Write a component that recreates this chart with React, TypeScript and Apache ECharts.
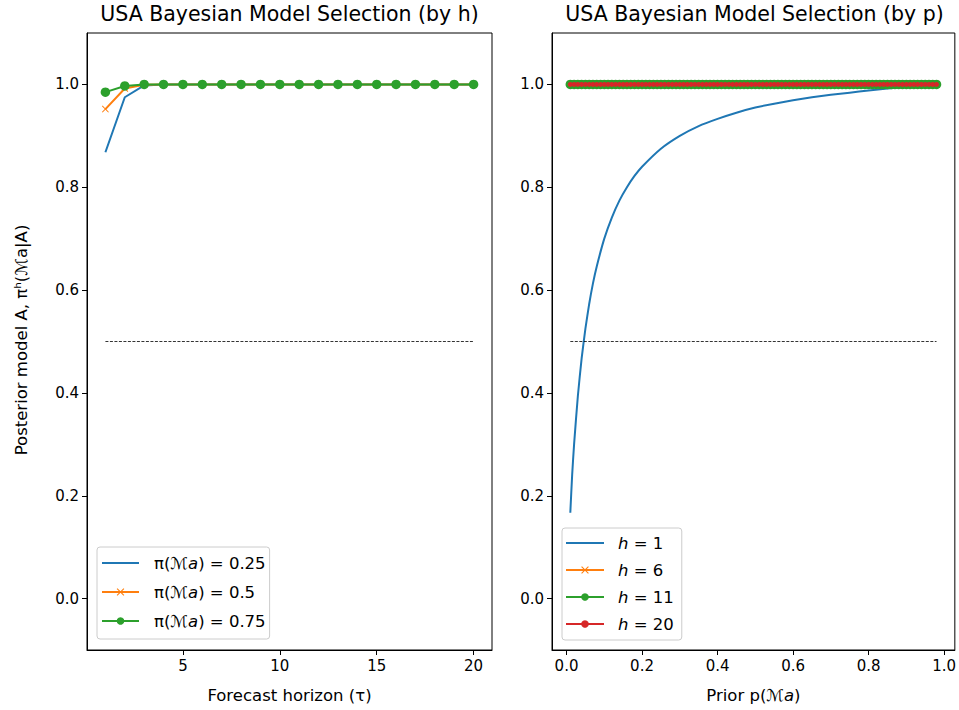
import React, { useEffect, useRef } from "react";
import * as echarts from "echarts";

const FONT = "DejaVu Sans";

// Left panel: posterior by forecast horizon
const horizons = [1, 2, 3, 4, 5, 6, 7, 8, 9, 10, 11, 12, 13, 14, 15, 16, 17, 18, 19, 20];
const prior025 = [0.868, 0.975, 0.998, 1, 1, 1, 1, 1, 1, 1, 1, 1, 1, 1, 1, 1, 1, 1, 1, 1];
const prior050 = [0.952, 0.992, 0.9995, 1, 1, 1, 1, 1, 1, 1, 1, 1, 1, 1, 1, 1, 1, 1, 1, 1];
const prior075 = [0.985, 0.997, 1, 1, 1, 1, 1, 1, 1, 1, 1, 1, 1, 1, 1, 1, 1, 1, 1, 1];

// Right panel: posterior by prior
const priorGrid = [
  0.01, 0.02, 0.03, 0.04, 0.05, 0.06, 0.07, 0.08, 0.09, 0.1, 0.11, 0.12, 0.13, 0.14,
  0.15, 0.16, 0.17, 0.18, 0.19, 0.2, 0.21, 0.22, 0.23, 0.24, 0.25, 0.26, 0.27, 0.28,
  0.29, 0.3, 0.31, 0.32, 0.33, 0.34, 0.35, 0.36, 0.37, 0.38, 0.39, 0.4, 0.41, 0.42,
  0.43, 0.44, 0.45, 0.46, 0.47, 0.48, 0.49, 0.5, 0.51, 0.52, 0.53, 0.54, 0.55, 0.56,
  0.57, 0.58, 0.59, 0.6, 0.61, 0.62, 0.63, 0.64, 0.65, 0.66, 0.67, 0.68, 0.69, 0.7,
  0.71, 0.72, 0.73, 0.74, 0.75, 0.76, 0.77, 0.78, 0.79, 0.8, 0.81, 0.82, 0.83, 0.84,
  0.85, 0.86, 0.87, 0.88, 0.89, 0.9, 0.91, 0.92, 0.93, 0.94, 0.95, 0.96, 0.97, 0.98,
];
const flatAtOne = [
  1, 1, 1, 1, 1, 1, 1, 1, 1, 1, 1, 1, 1, 1,
  1, 1, 1, 1, 1, 1, 1, 1, 1, 1, 1, 1, 1, 1,
  1, 1, 1, 1, 1, 1, 1, 1, 1, 1, 1, 1, 1, 1,
  1, 1, 1, 1, 1, 1, 1, 1, 1, 1, 1, 1, 1, 1,
  1, 1, 1, 1, 1, 1, 1, 1, 1, 1, 1, 1, 1, 1,
  1, 1, 1, 1, 1, 1, 1, 1, 1, 1, 1, 1, 1, 1,
  1, 1, 1, 1, 1, 1, 1, 1, 1, 1, 1, 1, 1, 1,
];
const h1Prior = [
  0.01, 0.015, 0.02, 0.03, 0.04, 0.05, 0.06, 0.07, 0.08, 0.1, 0.12, 0.14, 0.16, 0.18,
  0.2, 0.25, 0.3, 0.35, 0.4, 0.45, 0.5, 0.55, 0.6, 0.65, 0.7, 0.75, 0.8, 0.85, 0.9,
  0.95, 0.98,
];
const h1Values = [
  0.167, 0.242, 0.3, 0.394, 0.467, 0.525, 0.573, 0.613, 0.646, 0.7, 0.741, 0.774, 0.8,
  0.822, 0.84, 0.875, 0.9, 0.919, 0.933, 0.945, 0.955, 0.9625, 0.969, 0.975, 0.98,
  0.984, 0.988, 0.992, 0.995, 0.9975, 0.999,
];

const leftNames = ["π(ℳa) = 0.25", "π(ℳa) = 0.5", "π(ℳa) = 0.75"];
const rightNames = ["h = 1", "h = 6", "h = 11", "h = 20"];
const yTicks = [0, 0.2, 0.4, 0.6, 0.8, 1.0];
const leftXTicks = [5, 10, 15, 20];
const rightXTicks = [0, 0.2, 0.4, 0.6, 0.8, 1.0];
const threshold = 0.5;

const C_BLUE = "#1f77b4";
const C_ORANGE = "#ff7f0e";
const C_GREEN = "#2ca02c";
const C_RED = "#d62728";

const X_SYMBOL = "path://M0,1L1,0L5,4L9,0L10,1L6,5L10,9L9,10L5,6L1,10L0,9L4,5Z";

function pairs(xs: number[], ys: number[]) {
  return xs.map((x, i) => [x, ys[i]]);
}

export default function App() {
  const ref = useRef<HTMLDivElement>(null);
  useEffect(() => {
    document.body.style.margin = "0";
    if (!ref.current) return;
    const chart = echarts.init(ref.current, undefined, { renderer: "svg" });
    const tickLabel = { color: "#000", fontSize: 15, fontFamily: FONT, margin: 8 };
    const axisLine = { show: true, onZero: false, lineStyle: { color: "#000", width: 1 } };
    const nameStyle = {
      color: "#000",
      fontSize: 16.5,
      fontFamily: FONT,
      rich: { i: { fontStyle: "italic", fontSize: 16.5, fontFamily: FONT, color: "#000" } },
    };
    const yAxisBase = (gi: number) => ({
      type: "value",
      gridIndex: gi,
      min: -0.1,
      max: 1.1,
      axisLine,
      axisTick: { show: true, customValues: yTicks, length: 5, lineStyle: { color: "#000" } },
      axisLabel: { ...tickLabel, customValues: yTicks, formatter: (v: number) => v.toFixed(1) },
      splitLine: { show: false },
    });
    const lineCommon = { animation: false, clip: true };
    const legendText = (pad: number) => ({
      color: "#000",
      fontSize: 16.5,
      fontFamily: FONT,
      lineHeight: 18,
      padding: [0, 0, 0, pad],
      rich: {
        i: { fontStyle: "italic", fontSize: 16.5, fontFamily: FONT, color: "#000", lineHeight: 18 },
      },
    });
    const titleStyle = (text: string) => ({
      text,
      fill: "#000",
      fontSize: 20.5,
      fontFamily: FONT,
      align: "center",
      verticalAlign: "middle",
    });
    const option: any = {
      animation: false,
      backgroundColor: "#fff",
      graphic: [
        { type: "text", x: 289.5, y: 14, style: titleStyle("USA Bayesian Model Selection (by h)") },
        { type: "text", x: 754.5, y: 14, style: titleStyle("USA Bayesian Model Selection (by p)") },
        {
          type: "text",
          x: 21,
          y: 340,
          rotation: Math.PI / 2,
          style: {
            text: "Posterior model A, πʰ(ℳa|A)",
            fill: "#000",
            fontSize: 16.5,
            fontFamily: FONT,
            align: "center",
            verticalAlign: "middle",
          },
        },
      ],
      grid: [
        { left: 87, right: 959 - 492, top: 33, bottom: 60, show: true, borderColor: "#000", borderWidth: 1, backgroundColor: "transparent" },
        { left: 552, right: 2, top: 33, bottom: 60, show: true, borderColor: "#000", borderWidth: 1, backgroundColor: "transparent" },
      ],
      xAxis: [
        {
          type: "value",
          gridIndex: 0,
          min: 0.05,
          max: 20.95,
          axisLine,
          axisTick: { show: true, customValues: leftXTicks, length: 5, lineStyle: { color: "#000" } },
          axisLabel: { ...tickLabel, customValues: leftXTicks },
          splitLine: { show: false },
          name: "Forecast horizon (τ)",
          nameLocation: "middle",
          nameGap: 37,
          nameTextStyle: nameStyle,
        },
        {
          type: "value",
          gridIndex: 1,
          min: -0.0385,
          max: 1.0285,
          axisLine,
          axisTick: { show: true, customValues: rightXTicks, length: 5, lineStyle: { color: "#000" } },
          axisLabel: { ...tickLabel, customValues: rightXTicks, formatter: (v: number) => v.toFixed(1) },
          splitLine: { show: false },
          name: "Prior p(ℳ{i|a})",
          nameLocation: "middle",
          nameGap: 37,
          nameTextStyle: nameStyle,
        },
      ],
      yAxis: [yAxisBase(0), yAxisBase(1)],
      legend: [
        {
          data: [
            { name: leftNames[0], itemStyle: { color: "rgba(0,0,0,0)", borderColor: "rgba(0,0,0,0)", borderWidth: 0 } },
            { name: leftNames[1] },
            { name: leftNames[2] },
          ],
          orient: "vertical",
          left: 97,
          top: 547,
          itemWidth: 37,
          itemHeight: 9.5,
          itemGap: 11,
          padding: [7, 4, 9, 4],
          backgroundColor: "rgba(255,255,255,0.8)",
          borderColor: "#cccccc",
          borderWidth: 1,
          borderRadius: 3,
          textStyle: legendText(10),
          formatter: (n: string) => n.replace("ℳa", "ℳ{i|a}"),
          selectedMode: false,
        },
        {
          data: [
            { name: rightNames[0], itemStyle: { color: "rgba(0,0,0,0)", borderColor: "rgba(0,0,0,0)", borderWidth: 0 } },
            { name: rightNames[1] },
            { name: rightNames[2] },
            { name: rightNames[3] },
          ],
          orient: "vertical",
          left: 562,
          top: 528,
          itemWidth: 38,
          itemHeight: 9.5,
          itemGap: 9,
          padding: [6, 8, 7, 3],
          backgroundColor: "rgba(255,255,255,0.8)",
          borderColor: "#cccccc",
          borderWidth: 1,
          borderRadius: 3,
          textStyle: legendText(9),
          formatter: (n: string) => n.replace(/^h/, "{i|h}"),
          selectedMode: false,
        },
      ],
      series: [
        // left panel
        {
          ...lineCommon,
          type: "line",
          name: leftNames[0],
          xAxisIndex: 0,
          yAxisIndex: 0,
          data: pairs(horizons, prior025),
          symbol: "none",
          lineStyle: { color: C_BLUE, width: 2 },
          itemStyle: { color: C_BLUE },
        },
        {
          ...lineCommon,
          type: "line",
          name: leftNames[1],
          xAxisIndex: 0,
          yAxisIndex: 0,
          data: pairs(horizons, prior050),
          symbol: X_SYMBOL,
          symbolSize: 7,
          lineStyle: { color: C_ORANGE, width: 2 },
          itemStyle: { color: C_ORANGE },
        },
        {
          ...lineCommon,
          type: "line",
          name: leftNames[2],
          xAxisIndex: 0,
          yAxisIndex: 0,
          data: pairs(horizons, prior075),
          symbol: "circle",
          symbolSize: 9.5,
          lineStyle: { color: C_GREEN, width: 2 },
          itemStyle: { color: C_GREEN },
        },
        {
          ...lineCommon,
          type: "line",
          name: "threshold-left",
          xAxisIndex: 0,
          yAxisIndex: 0,
          data: [
            [horizons[0], threshold],
            [horizons[horizons.length - 1], threshold],
          ],
          symbol: "none",
          lineStyle: { color: "#000", width: 0.8, type: [3, 1.5] },
          silent: true,
        },
        // right panel
        {
          ...lineCommon,
          type: "line",
          name: rightNames[0],
          xAxisIndex: 1,
          yAxisIndex: 1,
          data: pairs(h1Prior, h1Values),
          symbol: "none",
          smooth: 0.2,
          lineStyle: { color: C_BLUE, width: 2 },
          itemStyle: { color: C_BLUE },
        },
        {
          ...lineCommon,
          type: "line",
          name: rightNames[1],
          xAxisIndex: 1,
          yAxisIndex: 1,
          data: pairs(priorGrid, flatAtOne),
          symbol: X_SYMBOL,
          symbolSize: 7,
          lineStyle: { color: C_ORANGE, width: 2 },
          itemStyle: { color: C_ORANGE },
        },
        {
          ...lineCommon,
          type: "line",
          name: rightNames[2],
          xAxisIndex: 1,
          yAxisIndex: 1,
          data: pairs(priorGrid, flatAtOne),
          symbol: "circle",
          symbolSize: 9.5,
          lineStyle: { color: C_GREEN, width: 2 },
          itemStyle: { color: C_GREEN },
        },
        {
          ...lineCommon,
          type: "line",
          name: rightNames[3],
          xAxisIndex: 1,
          yAxisIndex: 1,
          data: pairs(priorGrid, flatAtOne),
          symbol: "circle",
          symbolSize: 5,
          lineStyle: { color: C_RED, width: 2 },
          itemStyle: { color: C_RED },
        },
        {
          ...lineCommon,
          type: "line",
          name: "threshold-right",
          xAxisIndex: 1,
          yAxisIndex: 1,
          data: [
            [priorGrid[0], threshold],
            [priorGrid[priorGrid.length - 1], threshold],
          ],
          symbol: "none",
          lineStyle: { color: "#000", width: 0.8, type: [3, 1.5] },
          silent: true,
        },
      ],
    };
    chart.setOption(option);
    return () => chart.dispose();
  }, []);
  return <div ref={ref} style={{ width: 959, height: 710 }} />;
}
